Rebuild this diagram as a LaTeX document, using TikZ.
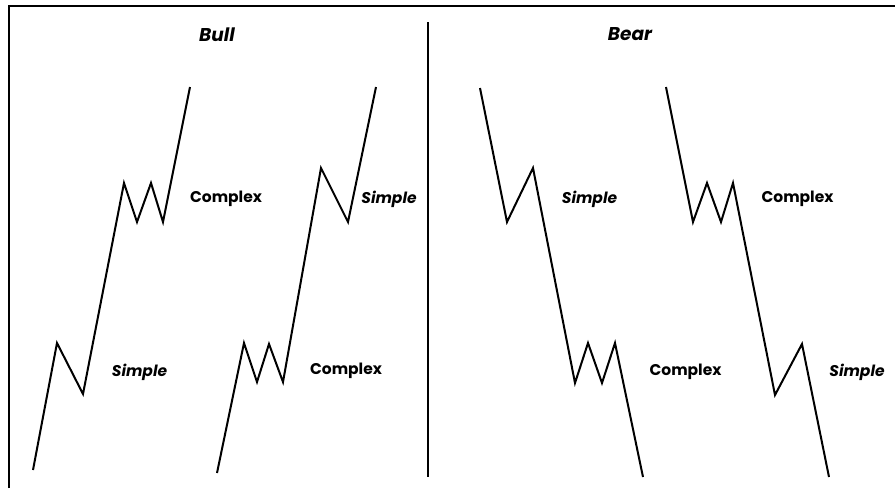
\documentclass[tikz,border=0pt]{standalone}
\usepackage{fontspec}
\setmainfont{Poppins}
\begin{document}
\begin{tikzpicture}[x=1pt,y=-1pt,
  wave/.style={line width=2pt,line join=miter,line cap=butt},
  frame/.style={line width=2pt},
  lblc/.style={font=\fontsize{15.5}{18}\selectfont\bfseries,inner sep=0pt},
  lbls/.style={font=\fontsize{15.5}{18}\selectfont\bfseries\itshape,inner sep=0pt},
  ttl/.style={font=\fontsize{18.5}{21}\selectfont\bfseries\itshape,inner sep=0pt}]
\useasboundingbox (0,0) rectangle (895,488);
% frame
\coordinate (fl) at (9,488);
\coordinate (ftl) at (9,6);
\coordinate (ftr) at (895,6);
\coordinate (dt) at (428,22);
\coordinate (db) at (428,477);
\draw[frame] (fl) -- (ftl) -- (ftr);
\draw[frame] (dt) -- (db);
% titles
\node[ttl] (bull) at (217,35) {Bull};
\node[ttl] (bear) at (630,34) {Bear};
% Bull wave 1
\coordinate (a0) at (33,470);
\coordinate (a1) at (57,343);
\coordinate (a2) at (83,394);
\coordinate (a3) at (124,183);
\coordinate (a4) at (137,222);
\coordinate (a5) at (151,183);
\coordinate (a6) at (163,222);
\coordinate (a7) at (190,87);
\draw[wave] (a0) -- (a1) -- (a2) -- (a3) -- (a4) -- (a5) -- (a6) -- (a7);
\node[lbls] (s1) at (139.5,372) {Simple};
\node[lblc] (c1) at (226,199) {Complex};
% Bull wave 2
\coordinate (b0) at (217,473);
\coordinate (b1) at (244,343);
\coordinate (b2) at (257,382);
\coordinate (b3) at (269,344);
\coordinate (b4) at (283,382);
\coordinate (b5) at (321,168);
\coordinate (b6) at (348,222);
\coordinate (b7) at (376,87);
\draw[wave] (b0) -- (b1) -- (b2) -- (b3) -- (b4) -- (b5) -- (b6) -- (b7);
\node[lblc] (c2) at (346,371) {Complex};
\node[lbls] (s2) at (389,199) {Simple};
% Bear wave 1
\coordinate (d0) at (480,88);
\coordinate (d1) at (507,222);
\coordinate (d2) at (533,168);
\coordinate (d3) at (575,383);
\coordinate (d4) at (588,343);
\coordinate (d5) at (602,383);
\coordinate (d6) at (615,343);
\coordinate (d7) at (643,477);
\draw[wave] (d0) -- (d1) -- (d2) -- (d3) -- (d4) -- (d5) -- (d6) -- (d7);
\node[lbls] (s3) at (589.5,199) {Simple};
\node[lblc] (c3) at (685.5,372) {Complex};
% Bear wave 2
\coordinate (e0) at (666,87);
\coordinate (e1) at (693,222);
\coordinate (e2) at (707,183);
\coordinate (e3) at (721,222);
\coordinate (e4) at (733,183);
\coordinate (e5) at (775,395);
\coordinate (e6) at (802,344);
\coordinate (e7) at (829,477);
\draw[wave] (e0) -- (e1) -- (e2) -- (e3) -- (e4) -- (e5) -- (e6) -- (e7);
\node[lblc] (c4) at (797.5,199) {Complex};
\node[lbls] (s4) at (857,372) {Simple};
\end{tikzpicture}
\end{document}
